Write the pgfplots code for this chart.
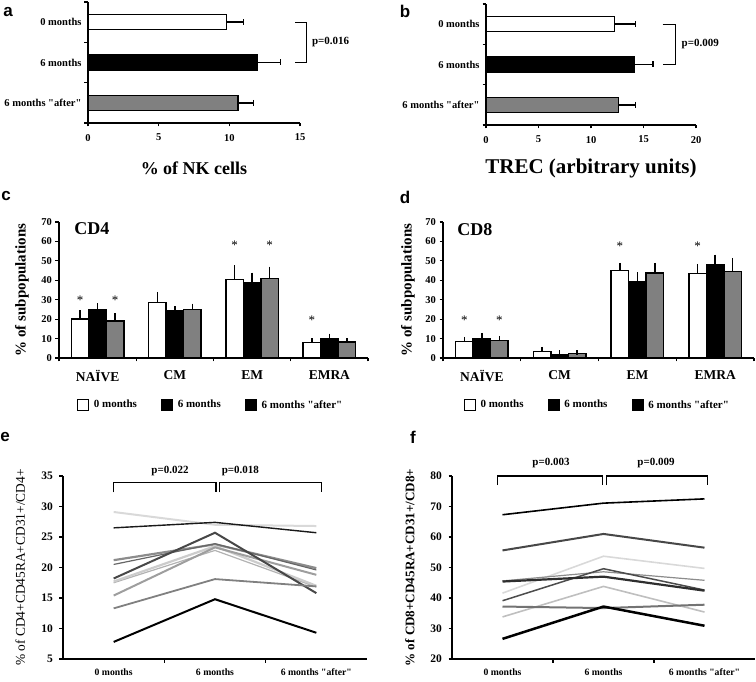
\documentclass[border=0pt]{standalone}
\usepackage{pgfplots}
\pgfplotsset{compat=1.18}
\usepackage{fontspec}
\setmainfont{Liberation Serif}
\newfontfamily\sansbold{Liberation Sans}
\newcommand\fs[1]{\fontsize{#1}{#1}\selectfont}
\newcommand\q{\textquotedbl}
\definecolor{barg}{RGB}{128,128,128}
\tikzset{ast/.style={font=\fs{13}, inner sep=0pt, anchor=center}}
\pgfplotsset{
  base/.style={scale only axis, anchor=south west, clip=false,
    axis x line*=bottom, axis y line*=left, axis line style={line width=1.5pt,-},
    tick align=outside, major tick length=3.5pt, tick style={line width=1.2pt, black},
    /pgf/number format/assume math mode=true,
    tick label style={font=\bfseries\fs{10.5}},
    label style={font=\bfseries}},
  hb/.style={draw=black, line width=1.3pt,
    error bars/x dir=plus, error bars/x explicit,
    error bars/error mark=|,
    error bars/error bar style={line width=1.4pt,black,solid},
    error bars/error mark options={line width=1.4pt, mark size=3pt,black}},
  vb/.style={draw=black, line width=1.3pt,
    error bars/y dir=plus, error bars/y explicit,
    error bars/error bar style={line width=1.3pt,black,solid},
    error bars/error mark options={line width=1.3pt, mark size=2.3pt,black}},
  sqleg/.style={legend image code/.code={\draw[##1, line width=0.8pt] (0pt,-5pt) rectangle (11pt,6pt);}},
  leg/.style={legend columns=3,
    legend style={draw=none, fill=none, font=\bfseries\fs{11}, inner sep=0pt,
      /tikz/every odd column/.append style={column sep=3pt},
      /tikz/every even column/.append style={column sep=22pt}},
    sqleg},
}
\begin{document}
\begin{tikzpicture}
\useasboundingbox (0pt,0pt) rectangle (756pt,681pt);
% panel letters
\node[font=\sansbold\bfseries\fs{17}] at (8pt,669pt) {a};
\node[font=\sansbold\bfseries\fs{17}] at (405pt,670pt) {b};
\node[font=\sansbold\bfseries\fs{17}] at (6pt,485pt) {c};
\node[font=\sansbold\bfseries\fs{17}] at (405pt,484pt) {d};
\node[font=\sansbold\bfseries\fs{17}] at (5pt,244pt) {e};
\node[font=\sansbold\bfseries\fs{17}] at (413pt,244pt) {f};

% ---------------- panel a
\begin{axis}[base, xbar, bar width=15pt, bar shift=0pt,
  at={(88pt,558pt)}, width=212pt, height=121pt,
  xmin=0, xmax=15, ymin=-0.5, ymax=2.5, xtick={0,5,10,15},
  ytick={-0.5,0.5,1.5,2.5}, yticklabels={},
  extra y ticks={0,1,2}, extra y tick labels={6 months \q after\q,6 months,0 months},
  extra y tick style={major tick length=0pt, tick style={draw=none}, tick label style={xshift=-3pt}},
  xticklabel style={yshift=-4pt},
  xlabel={\% of NK cells}, xlabel style={font=\bfseries\fs{18}, at={(axis description cs:0.5,0)}, anchor=center, yshift=-45pt}]
\addplot[hb, fill=white] coordinates {(9.82,2) +- (1.18,0)};
\addplot[hb, fill=black] coordinates {(12.0,1) +- (1.63,0)};
\addplot[hb, fill=barg] coordinates {(10.62,0) +- (1.08,0)};
\draw[line width=1.2pt] (axis cs:14.67,2) -- (axis cs:15.47,2) -- (axis cs:15.47,1) -- (axis cs:14.67,1);
\node[anchor=west, font=\bfseries\fs{11}] at (axis cs:15.6,1.5) {p=0.016};
\end{axis}

% ---------------- panel b
\begin{axis}[base, xbar, bar width=15pt, bar shift=0pt,
  at={(486pt,556pt)}, width=210pt, height=121pt,
  xmin=0, xmax=20, ymin=-0.5, ymax=2.5, xtick={0,5,10,15,20},
  ytick={-0.5,0.5,1.5,2.5}, yticklabels={},
  extra y ticks={0,1,2}, extra y tick labels={6 months \q after\q,6 months,0 months},
  extra y tick style={major tick length=0pt, tick style={draw=none}, tick label style={xshift=-3pt}},
  xticklabel style={yshift=-4pt},
  xlabel={TREC (arbitrary units)}, xlabel style={font=\bfseries\fs{21}, at={(axis description cs:0.5,0)}, anchor=center, yshift=-43pt}]
\addplot[hb, fill=white] coordinates {(12.22,2) +- (2.0,0)};
\addplot[hb, fill=black] coordinates {(14.13,1) +- (1.77,0)};
\addplot[hb, fill=barg] coordinates {(12.6,0) +- (1.62,0)};
\draw[line width=1.2pt] (axis cs:16.83,2) -- (axis cs:18.03,2) -- (axis cs:18.03,1) -- (axis cs:16.83,1);
\node[anchor=west, font=\bfseries\fs{11}] at (axis cs:18.3,1.5) {p=0.009};
\end{axis}

% ---------------- panel c
\begin{axis}[base, ybar, bar width=17.5pt, leg,
  at={(59pt,323pt)}, width=309pt, height=136pt,
  xmin=-0.5, xmax=3.5, ymin=0, ymax=70, ytick={0,10,...,70},
  xtick={-0.5,0.5,1.5,2.5,3.5}, xticklabels={},
  extra x ticks={0,1,2,3}, extra x tick labels={NAÏVE,CM,EM,EMRA},
  extra x tick style={major tick length=0pt, tick style={draw=none}, tick label style={font=\bfseries\fs{13.5}, yshift=-9pt}},
  ylabel={\% of subpopulations}, ylabel style={font=\bfseries\fs{15}, at={(axis description cs:-0.12,0.5)}, anchor=center},
  legend style={at={(axis description cs:0.058,-0.345)}, anchor=west}]
\addlegendimage{sqleg,fill=white,draw=black}
\addlegendimage{sqleg,fill=black,draw=black}
\addlegendimage{sqleg,fill=black,draw=black}
\addplot[vb, fill=white, bar shift=-17.5pt] coordinates {(0,20.0) +- (0,3.5) (1,28.7) +- (0,4.1) (2,40.4) +- (0,6.2) (3,8.0) +- (0,0.9)};
\addplot[vb, fill=black, bar shift=0pt] coordinates {(0,25.1) +- (0,1.9) (1,24.2) +- (0,1.2) (2,38.9) +- (0,3.9) (3,9.9) +- (0,1.5)};
\addplot[vb, fill=barg, bar shift=17.5pt] coordinates {(0,19.1) +- (0,2.7) (1,24.9) +- (0,1.9) (2,40.8) +- (0,5.1) (3,8.2) +- (0,0.8)};
\legend{0 months, 6 months, 6 months \q after\q}
\node[ast] at (axis cs:-0.2265,29.5) {*};
\node[ast] at (axis cs:0.2265,29.5) {*};
\node[ast] at (axis cs:1.7735,58) {*};
\node[ast] at (axis cs:2.2265,58) {*};
\node[ast] at (axis cs:2.7735,19.5) {*};
\node[font=\bfseries\fs{18}] at (axis cs:-0.073,66.5) {CD4};
\end{axis}

% ---------------- panel d
\begin{axis}[base, ybar, bar width=17.5pt, leg,
  at={(443pt,323pt)}, width=311pt, height=136pt,
  xmin=-0.5, xmax=3.5, ymin=0, ymax=70, ytick={0,10,...,70},
  xtick={-0.5,0.5,1.5,2.5,3.5}, xticklabels={},
  extra x ticks={0,1,2,3}, extra x tick labels={NAÏVE,CM,EM,EMRA},
  extra x tick style={major tick length=0pt, tick style={draw=none}, tick label style={font=\bfseries\fs{13.5}, yshift=-9pt}},
  ylabel={\% of subpopulations}, ylabel style={font=\bfseries\fs{15}, at={(axis description cs:-0.113,0.5)}, anchor=center},
  legend style={at={(axis description cs:0.066,-0.345)}, anchor=west}]
\addlegendimage{sqleg,fill=white,draw=black}
\addlegendimage{sqleg,fill=black,draw=black}
\addlegendimage{sqleg,fill=black,draw=black}
\addplot[vb, fill=white, bar shift=-17.5pt] coordinates {(0,8.5) +- (0,1.2) (1,3.4) +- (0,1.2) (2,44.9) +- (0,2.9) (3,43.5) +- (0,3.8)};
\addplot[vb, fill=black, bar shift=0pt] coordinates {(0,10.2) +- (0,1.6) (1,1.5) +- (0,1.4) (2,39.1) +- (0,3.9) (3,47.8) +- (0,4.2)};
\addplot[vb, fill=barg, bar shift=17.5pt] coordinates {(0,9.0) +- (0,1.2) (1,2.4) +- (0,0.5) (2,43.7) +- (0,4.1) (3,44.5) +- (0,5.8)};
\legend{0 months, 6 months, 6 months \q after\q}
\node[ast] at (axis cs:-0.225,19.2) {*};
\node[ast] at (axis cs:0.225,19.2) {*};
\node[ast] at (axis cs:1.775,57.6) {*};
\node[ast] at (axis cs:2.775,57.6) {*};
\node[font=\bfseries\fs{18}] at (axis cs:-0.09,66) {CD8};
\end{axis}

% ---------------- panel e
\begin{axis}[base, at={(63pt,22pt)}, width=304pt, height=183pt,
  xmin=-0.5, xmax=2.5, ymin=5, ymax=35, ytick={5,10,...,35},
  xtick={0.5,1.5}, xticklabels={},
  extra x ticks={0,1,2}, extra x tick labels={0 months,6 months,6 months \q after\q},
  extra x tick style={major tick length=0pt, tick style={draw=none}, tick label style={font=\bfseries\fs{9.7}, yshift=-6pt}},
  yticklabel style={font=\bfseries\fs{11.5}, xshift=-3pt},
  ylabel={\% of CD4+CD45RA+CD31+/CD4+}, ylabel style={font=\mdseries\fs{13.4}, at={(axis description cs:-0.141,0.5)}, anchor=center}]
\addplot[black!15, line width=2pt] coordinates {(0,29.1) (1,27.0) (2,26.8)};
\addplot[black!90, line width=1.4pt] coordinates {(0,26.5) (1,27.4) (2,25.7)};
\addplot[black!45, line width=2.2pt] coordinates {(0,21.2) (1,23.8) (2,19.9)};
\addplot[black!60, line width=1.2pt] coordinates {(0,20.5) (1,23.9) (2,19.6)};
\addplot[black!30, line width=1.2pt] coordinates {(0,17.5) (1,22.8) (2,16.8)};
\addplot[black!20, line width=2.2pt] coordinates {(0,17.7) (1,23.5) (2,17.0)};
\addplot[black!38, line width=2pt] coordinates {(0,15.4) (1,23.3) (2,18.8)};
\addplot[black!72, line width=2pt] coordinates {(0,18.2) (1,25.7) (2,15.8)};
\addplot[black!50, line width=1.8pt] coordinates {(0,13.3) (1,18.1) (2,16.9)};
\addplot[black, line width=2pt] coordinates {(0,7.8) (1,14.8) (2,9.3)};
\draw[line width=1.2pt] (axis cs:0,32.3) -- (axis cs:0,33.96) -- (axis cs:1.01,33.96) -- (axis cs:1.01,32.3);
\draw[line width=1.2pt] (axis cs:1.045,32.3) -- (axis cs:1.045,33.96) -- (axis cs:2.05,33.96) -- (axis cs:2.05,32.3);
\node[font=\bfseries\fs{11}] at (axis cs:0.556,35.8) {p=0.022};
\node[font=\bfseries\fs{11}] at (axis cs:1.25,35.8) {p=0.018};
\end{axis}

% ---------------- panel f
\begin{axis}[base, at={(452pt,22pt)}, width=303pt, height=183pt,
  xmin=-0.5, xmax=2.5, ymin=20, ymax=80, ytick={20,30,...,80},
  xtick={0.5,1.5}, xticklabels={},
  extra x ticks={0,1,2}, extra x tick labels={0 months,6 months,6 months \q after\q},
  extra x tick style={major tick length=0pt, tick style={draw=none}, tick label style={font=\bfseries\fs{9.7}, yshift=-6pt}},
  yticklabel style={font=\bfseries\fs{11.5}, xshift=-3pt},
  ylabel={\% of CD8+CD45RA+CD31+/CD8+}, ylabel style={font=\bfseries\fs{13.1}, at={(axis description cs:-0.139,0.5)}, anchor=center}]
\addplot[black, line width=1.6pt] coordinates {(0,67.3) (1,71.1) (2,72.5)};
\addplot[black!72, line width=2pt] coordinates {(0,55.6) (1,61.0) (2,56.5)};
\addplot[black!15, line width=1.6pt] coordinates {(0,41.6) (1,53.7) (2,49.7)};
\addplot[black!45, line width=1.2pt] coordinates {(0,45.6) (1,48.6) (2,45.8)};
\addplot[black!70, line width=1.5pt] coordinates {(0,39.1) (1,49.6) (2,42.6)};
\addplot[black!82, line width=2.2pt] coordinates {(0,45.4) (1,47.0) (2,42.4)};
\addplot[black!25, line width=1.6pt] coordinates {(0,33.8) (1,43.8) (2,35.4)};
\addplot[black!55, line width=2pt] coordinates {(0,37.2) (1,36.7) (2,37.8)};
\addplot[black, line width=2.5pt] coordinates {(0,26.6) (1,37.2) (2,30.9)};
\draw[line width=1.2pt] (axis cs:-0.05,77) -- (axis cs:-0.05,80) -- (axis cs:0.99,80) -- (axis cs:0.99,77);
\draw[line width=1.2pt] (axis cs:1.03,77) -- (axis cs:1.03,80) -- (axis cs:2.03,80) -- (axis cs:2.03,77);
\node[font=\bfseries\fs{11}] at (axis cs:0.48,84.3) {p=0.003};
\node[font=\bfseries\fs{11}] at (axis cs:1.52,84.3) {p=0.009};
\end{axis}
\end{tikzpicture}
\end{document}
